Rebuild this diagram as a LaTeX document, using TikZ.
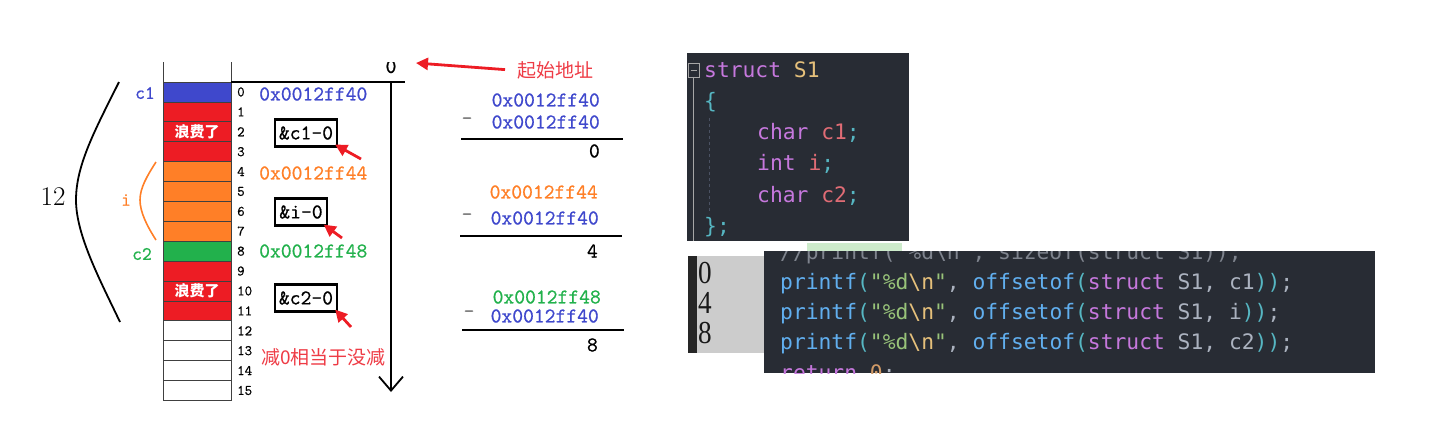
\documentclass[tikz,border=0pt]{standalone}
\usepackage{fontspec}
\usepackage{xcolor}
\usepackage{graphicx}
\usetikzlibrary{arrows.meta}
\newfontfamily\cjk{Noto Sans CJK SC}
\newfontfamily\codefont{DejaVu Sans Mono}
\newfontfamily\outfont{Liberation Serif}
\newfontfamily\hexfam[FakeBold=0.7]{Latin Modern Mono}
\definecolor{memblue}{HTML}{3F48CC}
\definecolor{memred}{HTML}{ED1C24}
\definecolor{memorange}{HTML}{FF7F27}
\definecolor{memgreen}{HTML}{22B14C}
\definecolor{notered}{HTML}{EE3B45}
\definecolor{edbg}{HTML}{282C34}
\definecolor{kwpurple}{HTML}{C678DD}
\definecolor{fnblue}{HTML}{61AFEF}
\definecolor{pcyan}{HTML}{56B6C2}
\definecolor{strgreen}{HTML}{98C379}
\definecolor{escyellow}{HTML}{E5C07B}
\definecolor{idred}{HTML}{E06C75}
\definecolor{plaingray}{HTML}{ABB2BF}
\definecolor{cmtgray}{HTML}{7F848E}
\definecolor{numorange}{HTML}{D19A66}
\definecolor{outgray}{HTML}{CCCCCC}
\definecolor{guidegray}{HTML}{4B5263}
\definecolor{stripgreen}{HTML}{CDEBCB}
\newcommand{\hexfont}{\fontsize{21}{21}\selectfont\hexfam}
\newcommand{\tok}[2]{\textcolor{#1}{#2}}

\begin{document}
\begin{tikzpicture}[x=1pt,y=-1pt,
  cell/.style={draw=black!75,line width=0.7pt,minimum width=68pt,minimum height=19.9pt,inner sep=0pt,outer sep=0pt},
  idx/.style={anchor=west,font=\fontsize{14.5}{14.5}\selectfont\hexfam,inner sep=0pt},
  addr/.style={font=\hexfont,inner sep=0pt},
  tag/.style={font=\fontsize{19}{19}\selectfont\hexfam,inner sep=0pt},
  offbox/.style={draw,line width=2.2pt,font=\hexfont,inner xsep=4pt,minimum height=27pt},
  redarrow/.style={draw=memred,line width=2.8pt,-{Triangle[length=12pt,width=12pt]}},
  note/.style={font=\cjk\fontsize{19}{19}\selectfont,text=notered,inner sep=0pt},
  waste/.style={font=\cjk\bfseries\fontsize{15}{15}\selectfont,text=white,inner sep=0pt},
  code/.style={anchor=base west,font=\codefont\fontsize{21.3}{21.3}\selectfont,inner sep=0pt},
  outnum/.style={anchor=base west,font=\outfont\fontsize{32}{32}\selectfont,text=black!90,inner sep=0pt}]
  \useasboundingbox (0,0) rectangle (1451,434);

  \foreach \k/\c in {0/memblue,1/memred,2/memred,3/memred,4/memorange,5/memorange,6/memorange,7/memorange,8/memgreen,9/memred,10/memred,11/memred,12/white,13/white,14/white,15/white}
    \node[cell,fill=\c] (cell\k) at (197,91.95+19.9*\k) {};
  \foreach \k in {0,...,15}
    \node[idx] (n\k) at ([xshift=6pt]cell\k.east) {\k};
  \node[waste] (waste1) at (cell2) {浪费了};
  \node[waste] (waste2) at (cell10) {浪费了};

  \coordinate (colL) at (163,62);
  \coordinate (colR) at (231,62);
  \draw[black!75,line width=0.7pt] (colL) -- (cell0.north west);
  \draw[black!75,line width=0.7pt] (colR) -- (cell0.north east);
  \coordinate (axisR) at (405,82);
  \coordinate (axtop) at (391,82);
  \coordinate (axbot) at (391,392);
  \draw[line width=1.8pt] (cell0.north east) -- (axisR);
  \draw[line width=1.8pt,-{Straight Barb[length=14pt,width=24pt]}] (axtop) -- (axbot);
  \begin{scope}
    \clip (370,62.5) rectangle (410,80);
    \node[addr] (zero) at (391,66.5) {0};
  \end{scope}
  \node[note,anchor=west] (startlbl) at (517,70.5) {起始地址};
  \coordinate (zerotip) at (416,63);
  \draw[redarrow,shorten <=12pt] (startlbl.west) -- (zerotip);

  \node[tag,text=memblue] (lc1) at (145,93) {c1};
  \node[tag,text=memgreen] (lc2) at (142,254) {c2};
  \node[tag,text=memorange] (li) at (126,200) {i};
  \node[font=\fontsize{27}{27}\selectfont,inner sep=0pt] (size) at (53,197) {12};
  \draw[line width=1.8pt] (119,82) .. controls (95,130) and (76,165) .. (76,200)
    .. controls (76,235) and (100,280) .. (120,322);
  \draw[memorange,line width=1.6pt] (156,162) .. controls (147,176) and (140,188) .. (140,200)
    .. controls (140,212) and (147,226) .. (156,240);

  \node[addr,text=memblue,anchor=west] (a40) at (259,94) {0x0012ff40};
  \node[addr,text=memorange,anchor=west] (a44) at (259,173) {0x0012ff44};
  \node[addr,text=memgreen,anchor=west] (a48) at (259,251) {0x0012ff48};

  \node[offbox] (bc1) at (306,133) {\&c1-0};
  \node[offbox] (bi) at (301,212) {\&i-0};
  \node[offbox] (bc2) at (306,298) {\&c2-0};
  \coordinate (t1) at (361,159);
  \coordinate (t2) at (342,238);
  \coordinate (t3) at (351,327);
  \draw[redarrow] (t1) -- ([shift={(-3pt,3pt)}]bc1.south east);
  \draw[redarrow] (t2) -- ([shift={(-4pt,2pt)}]bi.south east);
  \draw[redarrow] (t3) -- ([shift={(-3pt,3pt)}]bc2.south east);
  \node[note,anchor=west] (nochange) at (261,357) {减0相当于没减};

  \node[addr,text=memblue,anchor=east] (s1a) at (600,100) {0x0012ff40};
  \node[addr,text=memblue,anchor=east] (s1b) at (600,122) {0x0012ff40};
  \node[addr,text=gray] (m1) at (467,121) {-};
  \draw[line width=1.8pt] (461,139) -- (623,139);
  \node[addr,anchor=east] (r1) at (600,151) {0};
  \node[addr,text=memorange,anchor=east] (s2a) at (598,192) {0x0012ff44};
  \node[addr,text=memblue,anchor=east] (s2b) at (599,218) {0x0012ff40};
  \node[addr,text=gray] (m2) at (467,217) {-};
  \draw[line width=1.8pt] (460,236) -- (622,236);
  \node[addr,anchor=east] (r2) at (598,251) {4};
  \node[addr,text=memgreen,anchor=east] (s3a) at (601,297) {0x0012ff48};
  \node[addr,text=memblue,anchor=east] (s3b) at (599,316) {0x0012ff40};
  \node[addr,text=gray] (m3) at (469,314) {-};
  \draw[line width=1.8pt] (462,330) -- (624,330);
  \node[addr,anchor=east] (r3) at (598,345) {8};

  \fill[edbg] (687,53) rectangle (909,241);
  \draw[gray!70,line width=0.8pt] (688,63) rectangle (699,77);
  \draw[gray!70,line width=0.8pt] (690.5,70) -- (696.5,70);
  \draw[gray!70,line width=1pt] (693,77) -- (693,241);
  \draw[guidegray,dashed,line width=0.8pt] (709,118) -- (709,214);
  \node[code] (l1) at (704,77) {\tok{kwpurple}{struct} \tok{escyellow}{S1}};
  \node[code] (l2) at (704,108.3) {\tok{pcyan}{\{}};
  \node[code] (l3) at (757,139.6) {\tok{kwpurple}{char} \tok{idred}{c1}\tok{pcyan}{;}};
  \node[code] (l4) at (757,170.9) {\tok{kwpurple}{int} \tok{idred}{i}\tok{pcyan}{;}};
  \node[code] (l5) at (757,202.2) {\tok{kwpurple}{char} \tok{idred}{c2}\tok{pcyan}{;}};
  \node[code] (l6) at (704,233.5) {\tok{pcyan}{\};}};

  \fill[stripgreen] (807,243) rectangle (902,251);
  \fill[outgray] (688,256) rectangle (764,353);
  \fill[black!85] (688,256) rectangle (697,353);
  \node[outnum] (o1) at (698,283) {\scalebox{0.85}[1]{0}};
  \node[outnum] (o2) at (698,313) {\scalebox{0.85}[1]{4}};
  \node[outnum] (o3) at (698,343) {\scalebox{0.85}[1]{8}};

  \fill[edbg] (764,251) rectangle (1375,373);
  \begin{scope}
    \clip (764,251) rectangle (1375,373);
    \node[code] (p0) at (780,259) {\tok{cmtgray}{//printf("\%d\textbackslash n", sizeof(struct S1));}};
    \node[code] (p1) at (780,289.3) {\tok{fnblue}{printf}\tok{pcyan}{(}\tok{strgreen}{"\%d}\tok{escyellow}{\textbackslash n}\tok{strgreen}{"}\tok{plaingray}{,} \tok{fnblue}{offsetof}\tok{pcyan}{(}\tok{kwpurple}{struct} \tok{plaingray}{S1, c1}\tok{pcyan}{))}\tok{plaingray}{;}};
    \node[code] (p2) at (780,319.5) {\tok{fnblue}{printf}\tok{pcyan}{(}\tok{strgreen}{"\%d}\tok{escyellow}{\textbackslash n}\tok{strgreen}{"}\tok{plaingray}{,} \tok{fnblue}{offsetof}\tok{pcyan}{(}\tok{kwpurple}{struct} \tok{plaingray}{S1, i}\tok{pcyan}{))}\tok{plaingray}{;}};
    \node[code] (p3) at (780,349.5) {\tok{fnblue}{printf}\tok{pcyan}{(}\tok{strgreen}{"\%d}\tok{escyellow}{\textbackslash n}\tok{strgreen}{"}\tok{plaingray}{,} \tok{fnblue}{offsetof}\tok{pcyan}{(}\tok{kwpurple}{struct} \tok{plaingray}{S1, c2}\tok{pcyan}{))}\tok{plaingray}{;}};
    \node[code] (p4) at (780,380) {\tok{kwpurple}{return} \tok{numorange}{0}\tok{plaingray}{;}};
  \end{scope}
\end{tikzpicture}
\end{document}
